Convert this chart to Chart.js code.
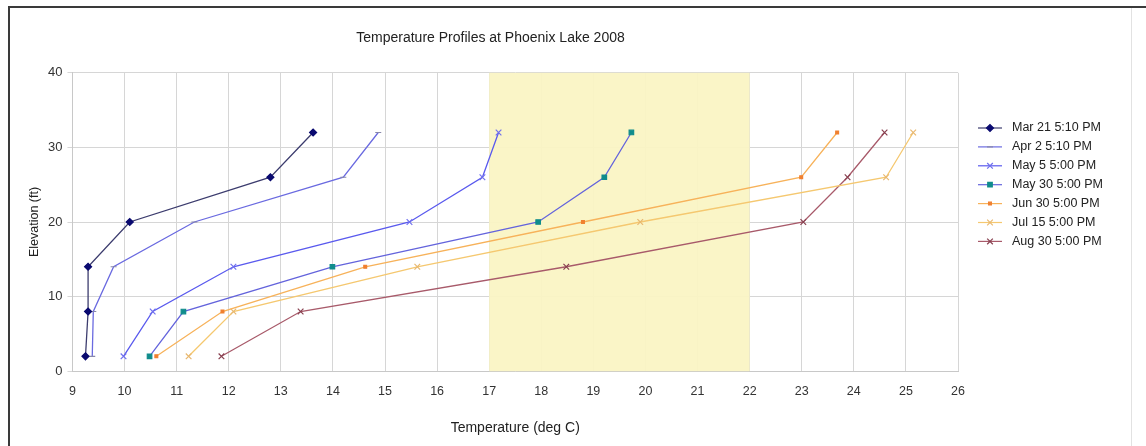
<!DOCTYPE html>
<html>
<head>
<meta charset="utf-8">
<script src="https://cdn.jsdelivr.net/npm/chart.js@4/dist/chart.umd.min.js"></script>
<style>
  body { margin:0; background:#fff; }
  canvas { display:block; }
</style>
</head>
<body>
<canvas id="profile_chart" width="1146" height="446"></canvas>
<script>
// elevation of each sample (ft)
let elevations = [2, 8, 14, 20, 26, 32];

// temperature readings (deg C), one per elevation
let mar21 = [9.25, 9.3, 9.3, 10.1, 12.8, 13.62];
let apr2  = [9.38, 9.4, 9.79, 11.34, 14.2, 14.87];
let may5  = [9.98, 10.54, 12.09, 15.47, 16.87, 17.18];
let may30 = [10.48, 11.13, 13.99, 17.94, 19.21, 19.73];
let jun30 = [10.61, 11.88, 14.62, 18.8, 22.99, 23.68];
let jul15 = [11.23, 12.09, 15.62, 19.9, 24.62, 25.14];
let aug30 = [11.86, 13.38, 18.48, 23.03, 23.88, 24.59];

let seriesNames = ["Mar 21 5:10 PM", "Apr 2 5:10 PM", "May 5 5:00 PM", "May 30 5:00 PM",
                   "Jun 30 5:00 PM", "Jul 15 5:00 PM", "Aug 30 5:00 PM"];

// highlighted temperature band
let bandFrom = 17;
let bandTo = 22;

function pts(temps) {
    let out = new Array();
    for(let i=0; i<temps.length; i++) {
        out.push({x:temps[i], y:elevations[i]});
    }
    return out;
}

let styles = [
    {line:'#3c3c6e', point:'#0a0a70', shape:'rectRot', r:3.5},
    {line:'#6a6ae0', point:'#8888aa', shape:'line', r:3},
    {line:'#5a5aee', point:'#7070ee', shape:'crossRot', r:4},
    {line:'#6464dc', point:'#108c8c', shape:'rect', r:3.2},
    {line:'#f7b25a', point:'#f08030', shape:'rect', r:2},
    {line:'#f5c870', point:'#e8b870', shape:'crossRot', r:4},
    {line:'#a85a6a', point:'#884050', shape:'crossRot', r:4}
];
let allTemps = [mar21, apr2, may5, may30, jun30, jul15, aug30];

let datasets = new Array();
for(let i=0; i<allTemps.length; i++) {
    datasets.push({
        label:seriesNames[i],
        data:pts(allTemps[i]),
        showLine:true,
        borderColor:styles[i].line,
        borderWidth:1.3,
        backgroundColor:styles[i].point,
        pointBorderColor:styles[i].point,
        pointBackgroundColor:styles[i].point,
        pointStyle:styles[i].shape,
        pointRadius:styles[i].r,
        pointBorderWidth:1.2
    });
}

const bandPlugin = {
    id:'band',
    beforeDatasetsDraw(chart) {
        let ctx = chart.ctx;
        let xs = chart.scales.x;
        let a = chart.chartArea;
        ctx.save();
        ctx.fillStyle = 'rgba(250,244,196,0.95)';
        let x1 = xs.getPixelForValue(bandFrom);
        let x2 = xs.getPixelForValue(bandTo);
        ctx.fillRect(x1, a.top, x2-x1, a.bottom-a.top);
        ctx.restore();
    }
};

const framePlugin = {
    id:'frame',
    afterDraw(chart) {
        let ctx = chart.ctx;
        ctx.save();
        // faint right edge
        ctx.strokeStyle = '#e2e2e2';
        ctx.lineWidth = 1;
        ctx.beginPath();
        ctx.moveTo(1131.5, 7);
        ctx.lineTo(1131.5, 446);
        ctx.stroke();
        // dark left / top edges
        ctx.strokeStyle = '#3a3a3a';
        ctx.lineWidth = 2;
        ctx.beginPath();
        ctx.moveTo(9, 446);
        ctx.lineTo(9, 7);
        ctx.lineTo(1146, 7);
        ctx.stroke();
        ctx.restore();
    }
};

const legendPlugin = {
    id:'sideLegend',
    afterDraw(chart) {
        let ctx = chart.ctx;
        ctx.save();
        ctx.font = '12.5px "Liberation Sans", Arial, sans-serif';
        ctx.textBaseline = 'middle';
        ctx.fillStyle = '#222';
        for(let i=0; i<chart.data.datasets.length; i++) {
            let ds = chart.data.datasets[i];
            let y = 128 + i*18.9;
            ctx.strokeStyle = ds.borderColor;
            ctx.lineWidth = 1.2;
            ctx.beginPath();
            ctx.moveTo(978, y);
            ctx.lineTo(1002, y);
            ctx.stroke();
            ctx.strokeStyle = ds.pointBorderColor;
            ctx.fillStyle = ds.pointBackgroundColor;
            Chart.helpers.drawPoint(ctx, {pointStyle:ds.pointStyle, radius:ds.pointRadius, borderWidth:1.2, rotation:0}, 990, y);
            ctx.fillStyle = '#222';
            ctx.fillText(ds.label, 1012, y);
        }
        ctx.restore();
    }
};

let chart = new Chart(document.getElementById('profile_chart'), {
    type:'scatter',
    data:{ datasets:datasets },
    options:{
        responsive:false,
        animation:false,
        layout:{ padding:{left:23, right:188, top:12, bottom:5} },
        plugins:{
            legend:{ display:false },
            tooltip:{ enabled:false },
            title:{
                display:true,
                text:'Temperature Profiles at Phoenix Lake 2008',
                color:'#222',
                font:{family:'"Liberation Sans", Arial, sans-serif', size:14, weight:'normal'},
                padding:{top:18, bottom:26}
            }
        },
        scales:{
            x:{
                type:'linear',
                min:9, max:26,
                ticks:{ stepSize:1, color:'#333', font:{family:'"Liberation Sans", Arial, sans-serif', size:12.5}, padding:13 },
                grid:{ color:'#d6d6d6', tickLength:0 },
                border:{ color:'#c8c8c8' },
                title:{ display:true, text:'Temperature (deg C)', color:'#222',
                        font:{family:'"Liberation Sans", Arial, sans-serif', size:14}, padding:{top:8} }
            },
            y:{
                min:0, max:40,
                ticks:{ stepSize:10, color:'#333', font:{family:'"Liberation Sans", Arial, sans-serif', size:13}, padding:5 },
                grid:{ color:'#d6d6d6', tickLength:5 },
                border:{ color:'#c8c8c8' },
                title:{ display:true, text:'Elevation (ft)', color:'#222',
                        font:{family:'"Liberation Sans", Arial, sans-serif', size:12.5}, padding:{bottom:1} }
            }
        }
    },
    plugins:[bandPlugin, legendPlugin, framePlugin]
});
</script>
</body>
</html>
